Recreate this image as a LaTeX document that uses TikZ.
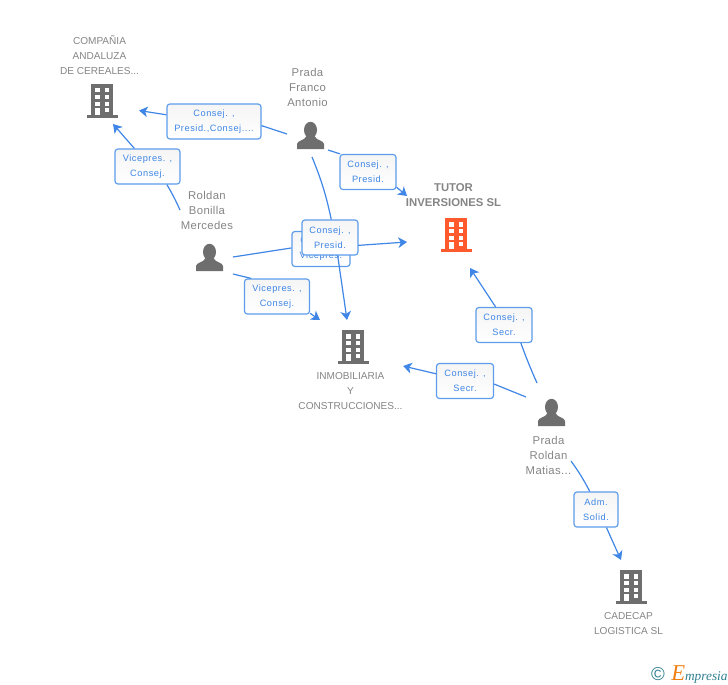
\documentclass[tikz,border=0pt]{standalone}
\usepackage{fontspec}
\setmainfont{Liberation Sans}
\newfontfamily\linkfont[LetterSpace=6]{Liberation Sans}
\newfontfamily\namefont[LetterSpace=3]{Liberation Sans}
\newfontfamily\brandfont{Liberation Serif}
\usetikzlibrary{arrows.meta}
\definecolor{linkblue}{HTML}{3F86E6}
\definecolor{edgeblue}{HTML}{5C9CEB}
\definecolor{icongrey}{HTML}{6E6E6E}
\definecolor{labelgrey}{HTML}{858585}
\definecolor{tutorred}{HTML}{FF5A2D}
\definecolor{brandteal}{HTML}{2F7F8F}
\definecolor{brandorange}{HTML}{F07F13}
\tikzset{
  link/.style={draw=linkblue,line width=0.9pt},
  linkto/.style={link,-{Stealth[length=6.5pt,width=8pt,inset=1.8pt]}},
  linkbox/.style={draw=edgeblue,line width=0.9pt,rounded corners=2.2pt,top color=black!4,bottom color=white,
    text=linkblue,font=\linkfont\fontsize{6.9}{11.25}\selectfont,align=center,inner sep=0pt,
    minimum height=26.25pt,minimum width=#1*0.75pt},
  person/.style={text=labelgrey,font=\namefont\fontsize{8.5}{11.25}\selectfont,align=center,inner sep=0pt},
  company/.style={text=labelgrey,font=\fontsize{7.55}{11.25}\selectfont,align=center,inner sep=0pt},
  pics/buildingicon/.style={code={
    \fill[#1] (-11,0) rectangle (11.3,31);
    \fill[#1] (-15.5,31) rectangle (16,33.5);
    \foreach \wy in {4.3,11,17.7} {
      \fill[white] (-7,\wy) rectangle (-2.3,\wy+4.2);
      \fill[white] (3,\wy) rectangle (7.3,\wy+4.2);
    }
    \fill[white] (-7,23.7) rectangle (-2.3,31);
    \fill[white] (3,23.7) rectangle (7.3,28);
  }},
  pics/personicon/.style={code={
    \fill[icongrey] (0,8) ellipse [x radius=6.5,y radius=8.2];
    \fill[icongrey] (-13.5,27) -- (-13.5,22) .. controls (-13.5,18.5) and (-5.5,18.5) .. (-4,14)
      -- (4,14) .. controls (5.5,18.5) and (13.5,18.5) .. (13.5,22) -- (13.5,27) -- cycle;
  }},
}
\begin{document}
\begin{tikzpicture}[x=0.75pt,y=-0.75pt,>=latex]
  \useasboundingbox (0,0) rectangle (728,685);
  % icons
  \pic (cerealesicon) at (102,84) {buildingicon=icongrey};
  \pic (tutoricon) at (456,218) {buildingicon=tutorred};
  \pic (inmoicon) at (353,330) {buildingicon=icongrey};
  \pic (cadecapicon) at (631,570) {buildingicon=icongrey};
  \pic (franco) at (310.5,122) {personicon};
  \pic (bonilla) at (209.5,244) {personicon};
  \pic (matias) at (551.5,399) {personicon};
  % names
  \node[company] (cerealeslabel) at (99.5,55) {COMPAÑIA\\ANDALUZA\\DE CEREALES...};
  \node[company,font=\bfseries\fontsize{8.5}{11.25}\selectfont] (tutorlabel) at (453.5,195.5) {TUTOR\\INVERSIONES SL};
  \node[company] (inmolabel) at (350.5,391) {INMOBILIARIA\\Y\\CONSTRUCCIONES...};
  \node[company] (cadecaplabel) at (628.5,623.5) {CADECAP\\LOGISTICA SL};
  \node[person] (francolabel) at (307.5,87.5) {Prada\\Franco\\Antonio};
  \node[person] (bonillalabel) at (207,210) {Roldan\\Bonilla\\Mercedes};
  \node[person] (matiaslabel) at (548.5,455) {Prada\\Roldan\\Matias...};
  % free ends
  \coordinate (francoW) at (287,134);
  \coordinate (francoE) at (328,150);
  \coordinate (francoS) at (312,157);
  \coordinate (bonillaN) at (180,210);
  \coordinate (bonillaE) at (233,257);
  \coordinate (bonillaS) at (233,274);
  \coordinate (matiasN) at (537,383);
  \coordinate (matiasW) at (526,397);
  \coordinate (matiasS) at (571,461);
  \coordinate (cerealesE) at (139,110.5);
  \coordinate (cerealesS) at (113,124);
  \coordinate (tutorW1) at (407,196);
  \coordinate (tutorW2) at (407,242);
  \coordinate (tutorS) at (470,268);
  \coordinate (inmoN1) at (347,320);
  \coordinate (inmoN2) at (320,320);
  \coordinate (inmoE) at (403,366);
  \coordinate (cadecapN) at (621,560);
  % boxes and links
  \node[linkbox=94] (boxa) at (214,121.5) {Consej. ,\\Presid.,Consej....};
  \draw[link] (francoW) -- (boxa.-5.5);
  \draw[linkto] (boxa.172) -- (cerealesE);
  \node[linkbox=65] (boxb) at (147.5,166.5) {Vicepres. ,\\Consej.};
  \draw[link] (bonillaN) to[bend right=3] (boxb.-43);
  \draw[linkto] (boxb.126) -- (cerealesS);
  \node[linkbox=56] (boxc) at (368,172) {Consej. ,\\Presid.};
  \draw[link] (francoE) -- (boxc.147);
  \draw[linkto] (boxc.-28) -- (tutorW1);
  \node[linkbox=58] (boxd) at (321,249) {Consej. ,\\Vicepres.};
  \draw[link] (bonillaE) -- (boxd.178);
  \draw[linkto] (boxd.6) -- (tutorW2);
  \node[linkbox=56] (boxe) at (330,237.5) {Consej. ,\\Presid.};
  \draw[link] (francoS) to[bend left=5] (boxe.86.5);
  \draw[linkto] (boxe.-67) -- (inmoN1);
  \node[linkbox=65] (boxf) at (277,296.5) {Vicepres. ,\\Consej.};
  \draw[link] (bonillaS) -- (boxf.145);
  \draw[linkto] (boxf.-27) -- (inmoN2);
  \node[linkbox=56] (boxg) at (504,325) {Consej. ,\\Secr.};
  \draw[link] (matiasN) to[bend left=2] (boxg.-47.5);
  \draw[linkto] (boxg.115) -- (tutorS);
  \node[linkbox=57] (boxh) at (465,381) {Consej. ,\\Secr.};
  \draw[link] (matiasW) -- (boxh.-6);
  \draw[linkto] (boxh.166) -- (inmoE);
  \node[linkbox=44] (boxi) at (596,509.5) {Adm.\\Solid.};
  \draw[link] (matiasS) to[bend left=4] (boxi.109);
  \draw[linkto] (boxi.-60) -- (cadecapN);
  % brand
  \node[inner sep=0pt,text=brandteal,font=\fontsize{14}{14}\selectfont] (brandmark) at (658,674) {©};
  \node[inner sep=0pt,anchor=west,text=brandteal,font=\brandfont\itshape\fontsize{10}{12}\selectfont] (brandname) at (671,674)
    {{\color{brandorange}\fontsize{17}{12}\selectfont E}mpresia};
\end{tikzpicture}
\end{document}
